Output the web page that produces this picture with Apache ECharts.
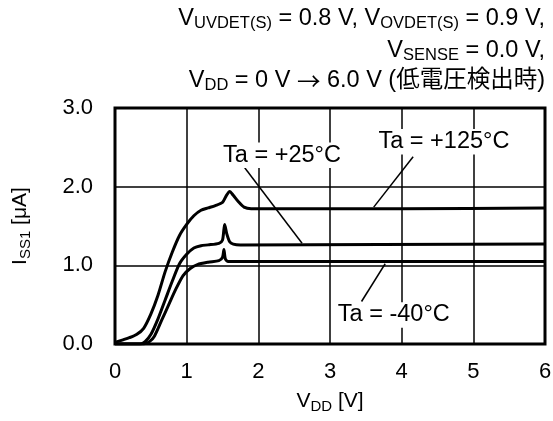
<!DOCTYPE html>
<html><head><meta charset="utf-8">
<script src="https://cdn.jsdelivr.net/npm/echarts@6/dist/echarts.min.js"></script>
<style>html,body{margin:0;padding:0;background:#fff}#c{width:553px;height:421px}</style>
</head><body><div id="c"></div>
<script>
// Data
const xTicks = [0, 1, 2, 3, 4, 5, 6];
const yTicks = [0.0, 1.0, 2.0, 3.0];
const vdd125 = [0, 0.1, 0.2, 0.3, 0.4, 0.5, 0.6, 0.7, 0.8, 0.9, 1.0, 1.1, 1.2, 1.3, 1.4, 1.5, 1.55, 1.6, 1.65, 1.72, 1.8, 1.9, 2.5, 4.0, 6.0];
const iss125 = [0.02, 0.05, 0.08, 0.12, 0.2, 0.38, 0.62, 0.92, 1.17, 1.38, 1.52, 1.63, 1.70, 1.73, 1.76, 1.80, 1.88, 1.94, 1.89, 1.81, 1.74, 1.72, 1.72, 1.72, 1.73];
const vdd25 = [0, 0.35, 0.42, 0.5, 0.6, 0.7, 0.8, 0.9, 1.0, 1.1, 1.2, 1.3, 1.45, 1.5, 1.53, 1.56, 1.6, 1.65, 1.75, 6.0];
const iss25 = [0, 0, 0.03, 0.12, 0.32, 0.56, 0.8, 1.02, 1.14, 1.22, 1.25, 1.26, 1.28, 1.32, 1.52, 1.40, 1.30, 1.27, 1.26, 1.27];
const vddM40 = [0, 0.4, 0.48, 0.55, 0.65, 0.75, 0.85, 0.95, 1.05, 1.15, 1.3, 1.45, 1.5, 1.52, 1.54, 1.58, 6.0];
const issM40 = [0, 0, 0.03, 0.1, 0.3, 0.5, 0.7, 0.87, 0.96, 1.01, 1.04, 1.06, 1.1, 1.2, 1.08, 1.05, 1.05];
const labelNames = ['Ta = +25°C', 'Ta = +125°C', 'Ta = -40°C'];
const labelX = [2.33, 4.59, 3.89];
const labelY = [2.40, 2.57, 0.37];
const leaderStart = [[1.81, 2.24], [4.16, 2.38], [3.44, 0.54]];
const leaderEnd = [[2.61, 1.28], [3.61, 1.74], [3.77, 1.02]];

const FONT = "'Liberation Sans', Arial, 'Noto Sans CJK JP', sans-serif";
const zip = (xs, ys) => xs.map((x, i) => [x, ys[i]]);
const rich = (size, sub) => ({
  v: {fontSize: size, fontFamily: FONT, fontWeight: 'normal', color: '#000', lineHeight: 26},
  s: {fontSize: sub, fontFamily: FONT, fontWeight: 'normal', color: '#000', lineHeight: 19, verticalAlign: 'bottom'},
  a: {fontSize: size, fontFamily: "'Noto Sans CJK JP', sans-serif", fontWeight: 'normal', color: '#000', lineHeight: 26}
});
const titleLines = [
  '{v|V}{s|UVDET(S)}{v| = 0.8 V, V}{s|OVDET(S)}{v| = 0.9 V,}',
  '{v|V}{s|SENSE}{v| = 0.0 V,}',
  '{v|V}{s|DD}{v| = 0 V }{a|→}{v| 6.0 V (低電圧検出時)}'
];
const titleTops = [6, 38, 68];

const series = [];
[[vdd125, iss125], [vdd25, iss25], [vddM40, issM40]].forEach(([xs, ys]) => {
  series.push({type: 'line', data: zip(xs, ys), symbol: 'none', smooth: 0.25, z: 5,
    lineStyle: {color: '#000', width: 3}});
});
leaderStart.forEach((p, i) => {
  series.push({type: 'line', data: [p, leaderEnd[i]], symbol: 'none', z: 4,
    lineStyle: {color: '#000', width: 1.5}});
});
series.push({type: 'scatter', symbolSize: 0, z: 6, itemStyle: {opacity: 1},
  data: labelNames.map((n, i) => ({name: n, value: [labelX[i], labelY[i]]})),
  label: {show: true, position: 'inside', formatter: '{b}', fontSize: 23.5, fontFamily: FONT,
    color: '#000', opacity: 1, backgroundColor: '#fff', padding: [1, 2]}
});

const chart = echarts.init(document.getElementById('c'), null, {renderer: 'canvas'});
chart.setOption({
  animation: false,
  backgroundColor: '#fff',
  title: titleLines.map((t, i) => ({text: t, right: 8, top: titleTops[i], padding: 0,
    textStyle: {fontWeight: 'normal', rich: rich(23.5, 16.5)}})),
  grid: {left: 115, right: 8, top: 108, bottom: 77, show: true, borderColor: '#000', borderWidth: 3,
    containLabel: false, outerBoundsMode: 'none'},
  xAxis: {type: 'value', min: xTicks[0], max: xTicks[xTicks.length - 1], interval: 1,
    name: '{v|V}{s|DD}{v| [V]}', nameLocation: 'middle', nameGap: 44,
    nameTextStyle: {rich: rich(21, 15)},
    axisLine: {show: false}, axisTick: {show: false},
    axisLabel: {fontSize: 22, fontFamily: FONT, color: '#000', margin: 17},
    splitLine: {show: true, lineStyle: {color: '#000', width: 1.5}}},
  yAxis: {type: 'value', min: yTicks[0], max: yTicks[yTicks.length - 1], interval: 1,
    name: '{v|I}{s|SS1}{v| [μA]}', nameLocation: 'middle', nameGap: 82, nameRotate: 90,
    nameTextStyle: {rich: rich(21, 15)},
    axisLine: {show: false}, axisTick: {show: false},
    axisLabel: {fontSize: 22, fontFamily: FONT, color: '#000', margin: 22, formatter: v => v.toFixed(1)},
    splitLine: {show: true, lineStyle: {color: '#000', width: 1.5}}},
  series: series
});
</script></body></html>
